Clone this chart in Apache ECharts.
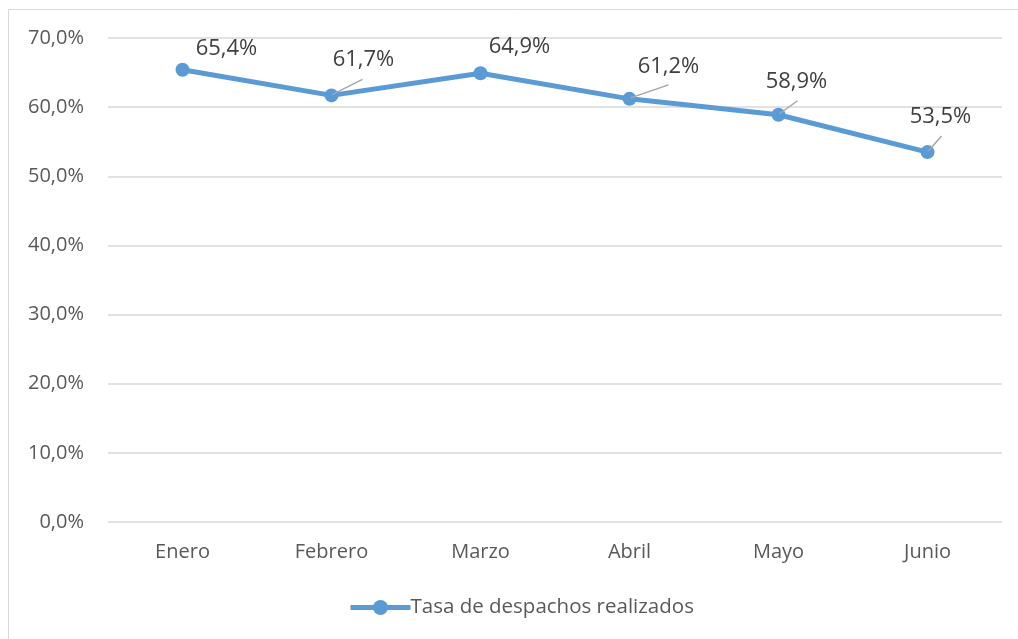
<!DOCTYPE html>
<html>
<head>
<meta charset="utf-8">
<script src="https://cdn.jsdelivr.net/npm/echarts@6/dist/echarts.min.js"></script>
<style>
  html, body { margin: 0; padding: 0; background: #fff; }
  #chart { width: 1018px; height: 639px; }
</style>
</head>
<body>
<div id="chart"></div>
<script>
const months = ['Enero', 'Febrero', 'Marzo', 'Abril', 'Mayo', 'Junio']
const rates = [65.4, 61.7, 64.9, 61.2, 58.9, 53.5]
const seriesName = 'Tasa de despachos realizados'

// where each data label sits relative to its point, and its leader line (null = none)
const labelShift = [[44, -21], [32, -36], [39, -27], [39, -32], [18, -33], [13, -35]]
const leader = [null, [31, -16], null, [39, -14], [19, -14], [14, -16]]

function pct(v) {
  return v.toFixed(1).replace('.', ',') + '%'
}

var chartDom = document.getElementById('chart');
var myChart = echarts.init(chartDom);
var option;

option = {
  animation: false,
  textStyle: { fontFamily: 'Open Sans' },
  graphic: [
    {
      type: 'rect',
      shape: { x: 8.5, y: 9.5, width: 1030, height: 650 },
      style: { fill: 'none', stroke: '#D9D9D9', lineWidth: 1 },
      silent: true
    }
  ],
  grid: { left: 108, right: 16, top: 38, bottom: 117 },
  xAxis: {
    type: 'category',
    data: months,
    boundaryGap: true,
    axisLine: { show: false },
    axisTick: { show: false },
    axisLabel: { color: '#595959', fontSize: 20, margin: 20 }
  },
  yAxis: {
    type: 'value',
    min: 0,
    max: 70,
    interval: 10,
    axisLine: { show: false },
    axisTick: { show: false },
    splitLine: { lineStyle: { color: '#D9D9D9', width: 1.5 } },
    axisLabel: {
      color: '#595959',
      fontSize: 20,
      margin: 24,
      formatter: function (value) { return pct(value) }
    }
  },
  legend: {
    bottom: 16,
    left: 343,
    itemWidth: 60,
    itemHeight: 19,
    lineStyle: { width: 5 },
    textStyle: { color: '#595959', fontSize: 20.5, padding: [0, 0, 0, -5] },
    data: [seriesName]
  },
  series: [
    {
      name: seriesName,
      type: 'line',
      data: rates,
      symbol: 'circle',
      symbolSize: 14,
      z: 2,
      lineStyle: { color: '#5B9BD5', width: 5 },
      itemStyle: { color: '#5B9BD5' },
      label: {
        show: true,
        position: 'inside',
        color: '#404040',
        fontSize: 22,
        formatter: function (p) { return pct(p.value) }
      },
      labelLayout: function (params) {
        const s = labelShift[params.dataIndex]
        return { dx: s[0], dy: s[1] }
      }
    },
    {
      type: 'custom',
      z: 3,
      silent: true,
      legendHoverLink: false,
      data: rates.map(function (v, i) { return [i, v] }),
      renderItem: function (params, api) {
        const d = leader[params.dataIndex]
        if (!d) return null
        const p = api.coord([api.value(0), api.value(1)])
        return {
          type: 'line',
          shape: { x1: p[0] + 1, y1: p[1] - 1, x2: p[0] + d[0], y2: p[1] + d[1] },
          style: { stroke: '#A6A6A6', lineWidth: 1.5 }
        }
      }
    }
  ]
};

option && myChart.setOption(option);
</script>
</body>
</html>
